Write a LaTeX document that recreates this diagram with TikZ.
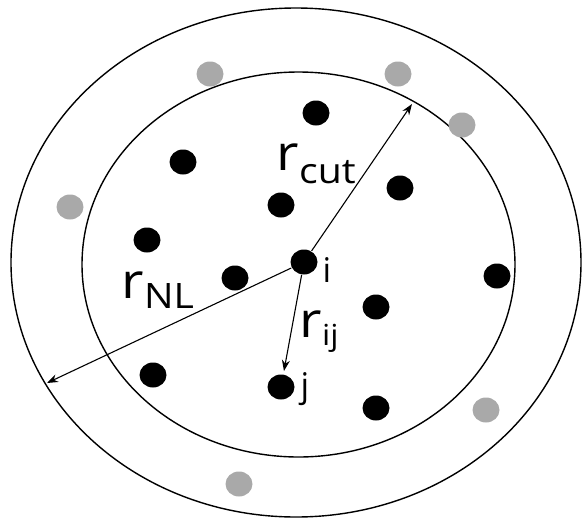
\documentclass[tikz,border=0pt]{standalone}
\usepackage{fontspec}
\setmainfont{Open Sans}
\definecolor{skingray}{HTML}{A9A9A9}
\usetikzlibrary{arrows.meta, shapes.geometric}
% label r with a lowered subscript, widened like the drawing
\newcommand{\radlabel}[3]{\scalebox{1.12}[1]{\fontsize{49}{49}\selectfont r\raisebox{-#2}{\fontsize{#3}{#3}\selectfont #1}}}

\begin{document}
\begin{tikzpicture}[x=1pt, y=-1pt, line width=1.4pt,
    atom/.style={ellipse, fill=black, minimum width=27pt, minimum height=25pt, inner sep=0pt},
    skin atom/.style={atom, fill=skingray},
    radius arrow/.style={-{Stealth[length=11pt, width=8pt]}, line width=1.1pt},
    lbl/.style={anchor=base west, inner sep=0pt}]
  \useasboundingbox (0,0) rectangle (582,523);

  % neighbour-list sphere and cutoff sphere
  \draw (296,262.5) ellipse [x radius=285, y radius=254.5];
  \draw (298.5,264.5) ellipse [x radius=216.5, y radius=192.5];

  % atoms inside the cutoff
  \foreach \px/\py [count=\n] in {316/113, 183/162, 400/188, 281/205, 147/240,
      235/278, 497/276, 376/307, 153/375, 376/408}
    \node[atom] (a\n) at (\px,\py) {};
  % atoms in the skin between the two spheres
  \foreach \px/\py [count=\n] in {210/74, 398/74, 462/125, 70/207, 486/410, 239/484}
    \node[skin atom] (s\n) at (\px,\py) {};
  \node[atom] (i) at (304,262) {};
  \node[atom] (j) at (281,387) {};

  % radii
  \coordinate (cut) at (412,104);
  \coordinate (nl) at (47,383);
  \draw[radius arrow] (i) -- (cut);
  \draw[radius arrow] (i) -- (nl);
  \draw[radius arrow, shorten >=3pt] (i) -- (j);

  % labels
  \node[lbl] (rcut) at (276,170) {\radlabel{cut}{13pt}{35}};
  \node[lbl] (rnl) at (121,298) {\radlabel{NL}{10pt}{35}};
  \node[lbl] (rij) at (299,337) {\radlabel{ij}{8pt}{29}};
  \node[lbl, font=\fontsize{34}{34}\selectfont] (il) at (322,282) {i};
  \node[lbl, font=\fontsize{34}{34}\selectfont] (jl) at (300,397) {j};
\end{tikzpicture}
\end{document}
